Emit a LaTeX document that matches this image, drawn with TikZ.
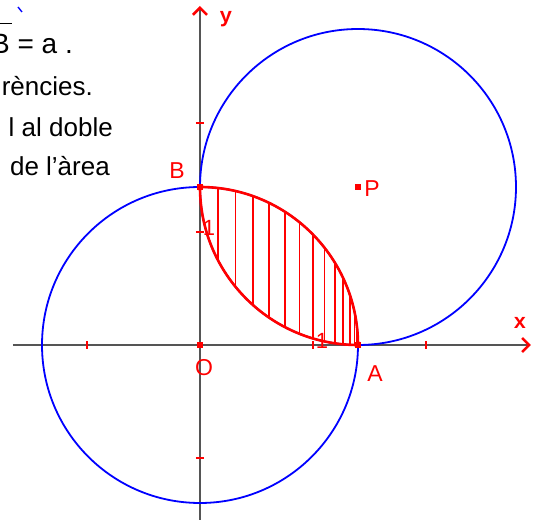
\documentclass[tikz,border=0pt]{standalone}
\usepackage{fontspec}
\setmainfont{Liberation Sans}
\newfontfamily\axfont{Liberation Mono}
\usetikzlibrary{arrows.meta}
\definecolor{axisgray}{RGB}{85,85,85}
\tikzset{
  axisline/.style={draw=axisgray, line width=1.8pt, -{Straight Barb[red, length=7pt, width=14pt, line width=2.6pt]}},
  bluecirc/.style={draw=blue, line width=1.8pt},
  lensline/.style={draw=red, line width=2.6pt},
  hatch/.style={draw=red, line width=1.8pt},
  tickmark/.style={draw=red, line width=1.4pt},
  ptlabel/.style={text=red, font=\fontsize{23}{27}\selectfont, inner sep=0pt},
  unitlabel/.style={text=red, font=\fontsize{22}{26}\selectfont, inner sep=0pt},
  axlabel/.style={text=red, font=\axfont\bfseries\fontsize{21}{24}\selectfont, inner sep=0pt},
  bodytext/.style={text=black, font=\fontsize{26}{30}\selectfont, inner sep=0pt, anchor=base east},
  dot/.style={fill=red, draw=none}
}
\begin{document}
\begin{tikzpicture}[x=1pt,y=1pt]
\useasboundingbox (-200,-175) rectangle (342,345);
\def\a{158}
% points
\coordinate (O) at (0,0);
\coordinate (A) at (\a,0);
\coordinate (B) at (0,\a);
\coordinate (P) at (\a,\a);
\coordinate (xs) at (-187,0);
\coordinate (xe) at (331,0);
\coordinate (ys) at (0,-180);
\coordinate (ye) at (0,339);
% axes
\draw[axisline] (xs) -- (xe);
\draw[axisline] (ys) -- (ye);
% ticks
\foreach \x in {-113,113,226} \draw[tickmark] (\x,-4) -- (\x,4);
\foreach \y in {-113,113,222} \draw[tickmark] (-4,\y) -- (4,\y);
% circles
\draw[bluecirc] (O) circle[radius=\a];
\draw[bluecirc] (P) circle[radius=\a];
% hatching
\foreach \t in {83.5,77,...,5.5}
  \draw[hatch] ({\a*cos(\t)},{\a*sin(\t)}) -- ({\a*cos(\t)},{\a*(1-sqrt(1-(cos(\t)-1)^2))});
\draw[hatch] ({\a*cos(2.5)},{\a*sin(2.5)}) -- ({\a*cos(2.5)},{\a*(1-sqrt(1-(cos(2.5)-1)^2))});
% lens outline
\draw[lensline] (B) arc[start angle=90, end angle=0, radius=\a];
\draw[lensline] (B) arc[start angle=180, end angle=270, radius=\a];
% dots
\foreach \p in {O,A,B,P} \fill[dot] ([shift={(-2.8,-2.8)}]\p) rectangle ([shift={(2.8,2.8)}]\p);
% labels
\node[ptlabel] (lO) at (4,-23) {O};
\node[ptlabel] (lA) at (175,-29) {A};
\node[ptlabel] (lB) at (-23,174) {B};
\node[ptlabel] (lP) at (172,156) {P};
\node[unitlabel] (l1y) at (9,117) {1};
\node[unitlabel] (l1x) at (122,4) {1};
\node[axlabel] (lx) at (320,22) {x};
\node[axlabel] (ly) at (26,326) {y};
% text at top left (cut off)
\node[bodytext, font=\fontsize{28}{32}\selectfont] (t1) at (-127,291) {B = a .};
\draw[black, line width=0.9pt] (-201,322) -- (-188,322);
\draw[blue, line width=1.4pt] (-182,338) -- (-178,333);
\node[bodytext] (t2) at (-107,249) {rències.};
\node[bodytext] (t3) at (-87,208) {l al doble};
\node[bodytext] (t4) at (-90,169) {de l’àrea};
\end{tikzpicture}
\end{document}
